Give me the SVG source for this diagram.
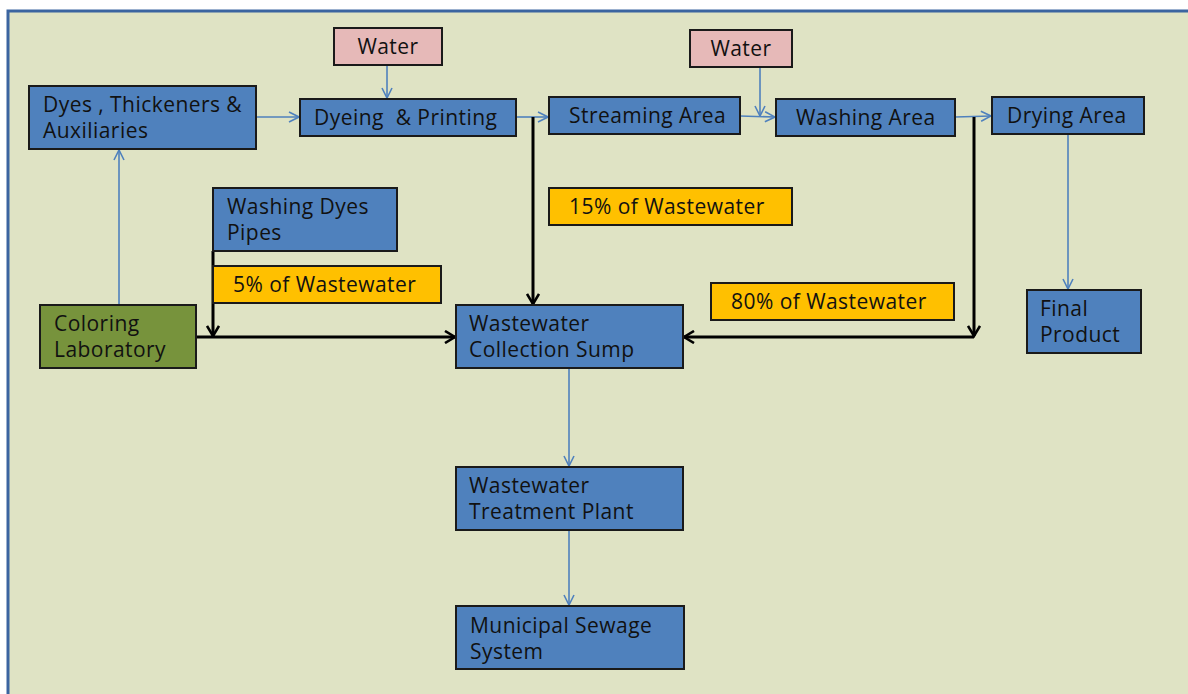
<svg xmlns="http://www.w3.org/2000/svg" width="1188" height="694" viewBox="0 0 1188 694">
<defs>
<style>
.box{stroke:#1a1a1a;stroke-width:2}
.blue{fill:#4f81bd}
.pink{fill:#e6b9b8}
.yel{fill:#ffc000}
.grn{fill:#77933c}
text{font-family:"Open Sans","Noto Sans",sans-serif;font-size:21px;letter-spacing:0.45px;fill:#111;white-space:pre}
.c{text-anchor:middle}
.bl{stroke:#4f81bd;stroke-width:1.6;fill:none}
.bk{stroke:#000;stroke-width:3;fill:none}
</style>
<marker id="ob" viewBox="0 0 12 12" refX="11" refY="6" markerWidth="12" markerHeight="12" markerUnits="userSpaceOnUse" orient="auto"><path d="M1,1 L11,6 L1,11" fill="none" stroke="#4f81bd" stroke-width="1.6"/></marker>
<marker id="kb" viewBox="0 0 14 14" refX="12" refY="7" markerWidth="14" markerHeight="14" markerUnits="userSpaceOnUse" orient="auto"><path d="M2,1 L12,7 L2,13" fill="none" stroke="#000" stroke-width="2.6"/></marker>
</defs>
<rect x="0" y="0" width="1188" height="694" fill="#ffffff"/>
<rect x="8" y="11" width="1200" height="700" fill="#dfe3c4" stroke="#3b64a0" stroke-width="3"/>

<g id="connectors">
<line class="bl" x1="387" y1="65" x2="387" y2="98" marker-end="url(#ob)"/>
<line class="bl" x1="256" y1="117" x2="299" y2="117" marker-end="url(#ob)"/>
<line class="bl" x1="516" y1="117" x2="548" y2="117" marker-end="url(#ob)"/>
<line class="bl" x1="740" y1="116" x2="775" y2="117" marker-end="url(#ob)"/>
<line class="bl" x1="760" y1="67" x2="760" y2="116" marker-end="url(#ob)"/>
<line class="bl" x1="955" y1="117" x2="991" y2="116" marker-end="url(#ob)"/>
<line class="bl" x1="1068" y1="134" x2="1068" y2="289" marker-end="url(#ob)"/>
<line class="bl" x1="119" y1="305" x2="119" y2="150" marker-end="url(#ob)"/>
<line class="bl" x1="569" y1="368" x2="569" y2="466" marker-end="url(#ob)"/>
<line class="bl" x1="569" y1="530" x2="569" y2="605" marker-end="url(#ob)"/>
<polyline class="bk" points="533,117 533,304" marker-end="url(#kb)"/>
<polyline class="bk" points="974,117 974,336" marker-end="url(#kb)"/>
<polyline class="bk" points="974,337 684,337" marker-end="url(#kb)"/>
<polyline class="bk" points="213,251 213,336" marker-end="url(#kb)"/>
<polyline class="bk" points="196,337 455,337" marker-end="url(#kb)"/>
</g>

<g id="water1"><rect class="box pink" x="334" y="28" width="108" height="37"/><text class="c" x="388" y="54">Water</text></g>
<g id="water2"><rect class="box pink" x="690" y="30" width="102" height="37"/><text class="c" x="741" y="56">Water</text></g>
<g id="dyes"><rect class="box blue" x="29" y="86" width="227" height="63"/><text x="43" y="112">Dyes , Thickeners &amp;</text><text x="43" y="138">Auxiliaries</text></g>
<g id="dyeing"><rect class="box blue" x="300" y="99" width="216" height="37"/><text x="314" y="125">Dyeing  &amp; Printing</text></g>
<g id="streaming"><rect class="box blue" x="549" y="97" width="191" height="37"/><text x="569" y="123">Streaming Area</text></g>
<g id="washing"><rect class="box blue" x="776" y="99" width="179" height="37"/><text x="796" y="125">Washing Area</text></g>
<g id="drying"><rect class="box blue" x="992" y="97" width="152" height="37"/><text x="1007" y="123">Drying Area</text></g>
<g id="final"><rect class="box blue" x="1027" y="290" width="114" height="63"/><text x="1040" y="316">Final</text><text x="1040" y="342">Product</text></g>
<g id="washpipes"><rect class="box blue" x="213" y="188" width="184" height="63"/><text x="227" y="214">Washing Dyes</text><text x="227" y="240">Pipes</text></g>
<g id="p5"><rect class="box yel" x="213" y="266" width="228" height="37"/><text x="233" y="292">5% of Wastewater</text></g>
<g id="p15"><rect class="box yel" x="549" y="188" width="243" height="37"/><text x="569" y="214">15% of Wastewater</text></g>
<g id="p80"><rect class="box yel" x="711" y="283" width="243" height="37"/><text x="731" y="309">80% of Wastewater</text></g>
<g id="coloring"><rect class="box grn" x="40" y="305" width="156" height="63"/><text x="54" y="331">Coloring</text><text x="54" y="357">Laboratory</text></g>
<g id="sump"><rect class="box blue" x="456" y="305" width="227" height="63"/><text x="469" y="331">Wastewater</text><text x="469" y="357">Collection Sump</text></g>
<g id="wtp"><rect class="box blue" x="456" y="467" width="227" height="63"/><text x="469" y="493">Wastewater</text><text x="469" y="519">Treatment Plant</text></g>
<g id="mss"><rect class="box blue" x="456" y="606" width="228" height="63"/><text x="470" y="633">Municipal Sewage</text><text x="470" y="659">System</text></g>
</svg>
